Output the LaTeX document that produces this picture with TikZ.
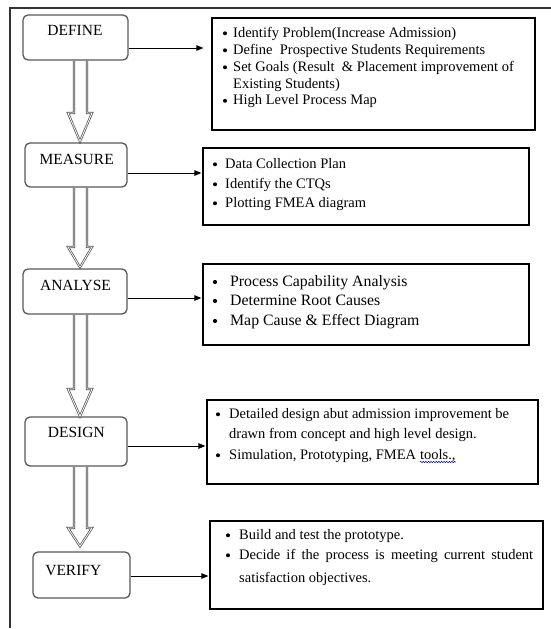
\documentclass[tikz,border=0pt]{standalone}
\usepackage{fontspec}
\setmainfont{Liberation Serif}
\usetikzlibrary{arrows.meta,calc,decorations.pathmorphing}

% hollow block arrow between two stage boxes:
% #1 source, #2 target, #3 y of the head base, #4 gap above the target
\newcommand\hollowlink[4]{%
  \draw[hollow] (74,0 |- #1.south) -- (74,#3) -- (68,#3)
    -- ($(80,0 |- #2.north)+(0,-#4)$) -- (92,#3) -- (87,#3) -- (87,0 |- #1.south);}

\begin{document}
\begin{tikzpicture}[x=1pt,y=-1pt,
  frame/.style={draw=black!80,line width=1.3pt},
  stage/.style={draw=black!65,line width=1.3pt,rounded corners=5pt,inner sep=0pt},
  stagetext/.style={anchor=base,inner sep=0pt,font=\fontsize{15.5}{18}\selectfont},
  listbox/.style={draw=black,line width=1.2pt,inner sep=0pt},
  item/.style={anchor=base west,inner sep=0pt,font=\fontsize{14.5}{17}\selectfont},
  bigitem/.style={item,font=\fontsize{15.8}{19}\selectfont},
  link/.style={draw=black,line width=1pt,-{Triangle[length=7pt,width=5.5pt]}},
  hollow/.style={draw=black!70,line width=0.7pt,double=white,double distance=0.8pt,line join=miter},
  bul/.style={fill=black},
  squiggle/.style={draw=blue!80!black,line width=0.5pt,decorate,
    decoration={snake,amplitude=0.7pt,segment length=2.6pt}}
]
\useasboundingbox (0,0) rectangle (551,629);
\fill[white] (0,0) rectangle (551,629);

% outer frame (top and left edges)
\draw[frame] (551,8) -- (10,8) -- (10,628);

% stage boxes
\node[stage,minimum width=105pt,minimum height=45pt] (def) at (75.5,37.5) {};
\node[stage,minimum width=102pt,minimum height=44pt] (mea) at (76,165) {};
\node[stage,minimum width=104pt,minimum height=45pt] (ana) at (75,291.5) {};
\node[stage,minimum width=102pt,minimum height=49pt] (des) at (76,441.5) {};
\node[stage,minimum width=97pt,minimum height=46pt] (ver) at (81.5,575) {};

\node[stagetext] (deft) at (75,35) {DEFINE};
\node[stagetext] (meat) at (76.7,164) {MEASURE};
\node[stagetext] (anat) at (75.5,290.7) {ANALYSE};
\node[stagetext] (dest) at (76.3,437.7) {DESIGN};
\node[stagetext] (vert) at (73.3,575) {VERIFY};

% list boxes
\node[listbox,minimum width=323pt,minimum height=112pt] (cdef) at (373.5,74) {};
\node[listbox,minimum width=326pt,minimum height=77pt] (cmea) at (366,186.5) {};
\node[listbox,minimum width=326pt,minimum height=81pt] (cana) at (366,304.5) {};
\node[listbox,minimum width=331pt,minimum height=84pt] (cdes) at (372.5,442) {};
\node[listbox,minimum width=333pt,minimum height=88pt] (cver) at (376.5,565) {};

% hollow arrows down the stages
\hollowlink{def}{mea}{113}{1}
\hollowlink{mea}{ana}{247}{1}
\hollowlink{ana}{des}{389}{0}
\hollowlink{des}{ver}{528}{5}

% links from each stage to its list
\draw[link,shorten >=8pt] (def.east |- 0,48) -- (cdef.west |- 0,48);
\draw[link,shorten >=1pt] (mea.east |- 0,173) -- (cmea.west |- 0,173);
\draw[link,shorten >=1pt] (ana.east |- 0,298) -- (cana.west |- 0,298);
\draw[link,shorten >=1pt] (des.east |- 0,446) -- (cdes.west |- 0,446);
\draw[link,shorten >=1pt] (ver.east |- 0,576) -- (cver.west |- 0,576);

% DEFINE list
\node[item] (d1) at (233,37) {Identify Problem(Increase Admission)};
\node[item] (d2) at (233,54) {Define\ \ Prospective Students Requirements};
\node[item] (d3) at (233,71) {Set Goals (Result\ \ \& Placement improvement of};
\node[item] (d4) at (233,88) {Existing Students)};
\node[item] (d5) at (233,104.5) {High Level Process Map};
\foreach \y in {33.3,50.3,67.3,100.8} \fill[bul] (225,\y) circle (2pt);

% MEASURE list
\node[item] (m1) at (225,168) {Data Collection Plan};
\node[item] (m2) at (225,188) {Identify the CTQs};
\node[item] (m3) at (225,207) {Plotting FMEA diagram};
\foreach \y in {164.3,184.3,203.3} \fill[bul] (215,\y) circle (2pt);

% ANALYSE list
\node[bigitem] (a1) at (230,286) {Process Capability Analysis};
\node[bigitem] (a2) at (230,305) {Determine Root Causes};
\node[bigitem] (a3) at (230,325) {Map Cause \& Effect Diagram};
\foreach \y in {282,301,321} \fill[bul] (215,\y) circle (2.1pt);

% DESIGN list
\node[item] (s1) at (229,418) {Detailed design abut admission improvement be};
\node[item] (s2) at (229,438.5) {drawn from concept and high level design.};
\node[item] (s3a) at (229,459) {Simulation, Prototyping, FMEA};
\node[item] (s3b) at ([xshift=3.6pt]s3a.base east) {tools.,};
\draw[squiggle] ([yshift=-3pt]s3b.base west) -- ([yshift=-3pt]s3b.base east);
\foreach \y in {414.3,455.3} \fill[bul] (218,\y) circle (2pt);

% VERIFY list
\node[item] (v1) at (239,539) {Build and test the prototype.};
\node[item] (v2) at (239,559) {\makebox[294pt][s]{Decide if the process is meeting current student}};
\node[item] (v3) at (239,582) {satisfaction objectives.};
\foreach \y in {535.3,555.3} \fill[bul] (228,\y) circle (2pt);
\end{tikzpicture}
\end{document}
